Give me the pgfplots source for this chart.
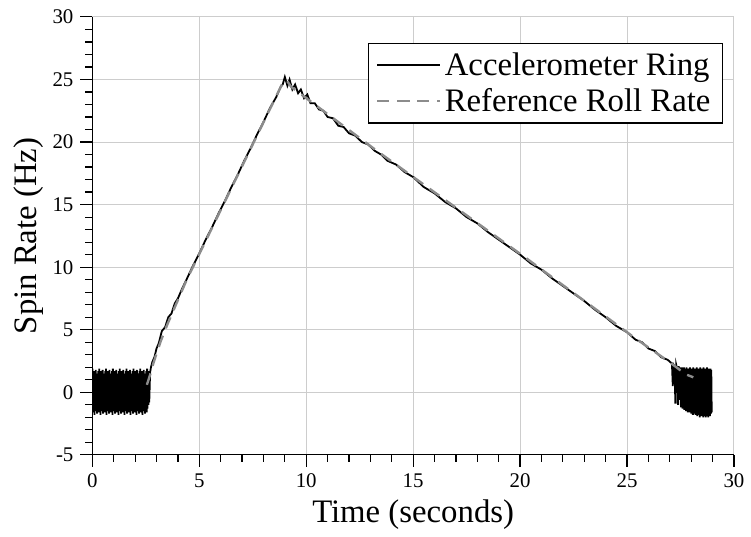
\documentclass[border=0pt]{standalone}
\usepackage{fontspec}
\setmainfont{Liberation Serif}
\usepackage{pgfplots}
\pgfplotsset{compat=1.18}
\definecolor{gridgray}{RGB}{205,205,205}
\definecolor{refgray}{RGB}{140,140,140}
\begin{document}
\begin{tikzpicture}
\begin{axis}[
 scale only axis,
 width=323pt, height=220.5pt,
 xmin=0, xmax=30, ymin=-5, ymax=30,
 xtick={0,5,...,30}, ytick={-5,0,...,30},
 minor tick num=4,
 axis x line=bottom, axis y line=left,
 axis line style={-, line width=0.6pt},
 tick align=outside,
 major tick length=6pt, minor tick length=3.5pt,
 tick style={black, line width=0.6pt},
 grid=major, grid style={gridgray, line width=0.5pt},
 /pgf/number format/assume math mode=true,
 ticklabel style={font=\fontsize{10.5}{12}\selectfont},
 xlabel={Time (seconds)}, ylabel={Spin Rate (Hz)},
 xlabel style={at={(axis description cs:0.5,0)}, anchor=base, yshift=-34pt, font=\fontsize{16.5}{18}\selectfont},
 ylabel style={at={([xshift=-28pt]axis description cs:0,0.5)}, anchor=base, font=\fontsize{16.5}{18}\selectfont},
 legend style={at={(0.983,0.941)}, anchor=north east, draw=black, line width=0.6pt,
   font=\fontsize{16.5}{19}\selectfont, inner xsep=4pt, inner ysep=2.5pt,
   row sep=1pt, /tikz/every even column/.append style={column sep=6pt}},
 legend cell align=left,
 legend image code/.code={\draw[mark repeat=2,mark phase=2] plot coordinates {(0cm,0cm) (0.55cm,0cm) (1.1cm,0cm)};},
]
% Accelerometer Ring
\addplot[black, line width=0.9pt] coordinates {
(0.00,1.9) (0.02,-1.6) (0.04,1.4) (0.06,-1.3) (0.08,1.7) (0.10,-1.8) (0.12,1.2) (0.14,-1.1)
(0.16,1.8) (0.18,-1.5) (0.20,1.5) (0.22,-1.7) (0.24,1.3) (0.26,-1.2) (0.28,1.7) (0.30,-1.6)
(0.32,1.9) (0.34,-1.3) (0.36,1.4) (0.38,-1.8) (0.40,1.7) (0.42,-1.1) (0.44,1.2) (0.46,-1.5)
(0.48,1.8) (0.50,-1.7) (0.52,1.5) (0.54,-1.2) (0.56,1.3) (0.58,-1.6) (0.60,1.7) (0.62,-1.3)
(0.64,1.9) (0.66,-1.8) (0.68,1.4) (0.70,-1.1) (0.72,1.7) (0.74,-1.5) (0.76,1.2) (0.78,-1.7)
(0.80,1.8) (0.82,-1.2) (0.84,1.5) (0.86,-1.6) (0.88,1.3) (0.90,-1.3) (0.92,1.7) (0.94,-1.8)
(0.96,1.9) (0.98,-1.1) (1.00,1.4) (1.02,-1.5) (1.04,1.7) (1.06,-1.7) (1.08,1.2) (1.10,-1.2)
(1.12,1.8) (1.14,-1.6) (1.16,1.5) (1.18,-1.3) (1.20,1.3) (1.22,-1.8) (1.24,1.7) (1.26,-1.1)
(1.28,1.9) (1.30,-1.5) (1.32,1.4) (1.34,-1.7) (1.36,1.7) (1.38,-1.2) (1.40,1.2) (1.42,-1.6)
(1.44,1.8) (1.46,-1.3) (1.48,1.5) (1.50,-1.8) (1.52,1.3) (1.54,-1.1) (1.56,1.7) (1.58,-1.5)
(1.60,1.9) (1.62,-1.7) (1.64,1.4) (1.66,-1.2) (1.68,1.7) (1.70,-1.6) (1.72,1.2) (1.74,-1.3)
(1.76,1.8) (1.78,-1.8) (1.80,1.5) (1.82,-1.1) (1.84,1.3) (1.86,-1.5) (1.88,1.7) (1.90,-1.7)
(1.92,1.9) (1.94,-1.2) (1.96,1.4) (1.98,-1.6) (2.00,1.7) (2.02,-1.3) (2.04,1.2) (2.06,-1.8)
(2.08,1.8) (2.10,-1.1) (2.12,1.5) (2.14,-1.5) (2.16,1.3) (2.18,-1.7) (2.20,1.7) (2.22,-1.2)
(2.24,1.9) (2.26,-1.6) (2.28,1.4) (2.30,-1.3) (2.32,1.7) (2.34,-1.8) (2.36,1.2) (2.38,-1.1)
(2.40,1.8) (2.42,-1.5) (2.44,1.5) (2.46,-1.7) (2.48,1.3) (2.50,-1.2) (2.52,1.7) (2.54,-1.6)
(2.56,1.9) (2.58,-1.3) (2.60,1.4) (2.62,-1.0) (2.64,1.7) (2.66,-0.8) (2.70,1.6) (2.74,2.0)
(2.80,2.4) (2.90,2.8) (3.00,3.5) (3.10,3.9) (3.25,4.9) (3.40,5.2) (3.55,6.0) (3.70,6.3)
(3.85,7.1) (4.00,7.5) (4.20,8.3) (4.40,9.0) (4.70,10.1) (5.00,11.1) (5.30,12.2) (5.60,13.2)
(5.90,14.3) (6.20,15.3) (6.50,16.4) (6.80,17.4) (7.10,18.5) (7.40,19.5) (7.70,20.6) (8.00,21.6)
(8.30,22.7) (8.60,23.6) (8.80,24.4) (8.90,24.6) (9.00,25.2)
(9.12,24.5) (9.22,25.0) (9.35,24.2) (9.48,24.6) (9.62,23.9) (9.75,24.2) (9.90,23.5) (10.05,23.8)
(10.20,23.1) (10.40,23.1) (10.60,22.6) (10.80,22.5) (11.00,22.0) (11.25,21.9) (11.50,21.3) (11.75,21.2)
(12.00,20.7) (12.30,20.5) (12.60,20.0) (12.90,19.8) (13.20,19.3) (13.50,19.0) (13.80,18.5) (14.20,18.2)
(14.60,17.6) (15.00,17.2) (15.50,16.4) (16.00,15.9) (16.50,15.2) (17.00,14.7) (17.50,14.0) (18.00,13.5)
(18.50,12.8) (19.00,12.2) (19.50,11.6) (20.00,11.0) (20.50,10.3) (21.00,9.8) (21.50,9.1) (22.00,8.5)
(22.50,7.9) (23.00,7.3) (23.50,6.6) (24.00,6.0) (24.50,5.3) (25.00,4.8) (25.40,4.2) (25.70,4.0)
(26.00,3.5) (26.30,3.3) (26.60,2.8) (26.90,2.6) (27.10,2.3)
(27.14,0.5) (27.18,2.2) (27.22,2.1) (27.26,-0.9) (27.30,2.2) (27.34,1.9) (27.38,-1.0) (27.42,2.1)
(27.46,-0.6) (27.50,2.0) (27.52,-1.2) (27.54,1.9) (27.56,-1.1) (27.58,2.0) (27.60,-1.3) (27.62,1.8)
(27.64,-1.2) (27.66,2.0) (27.68,-1.4) (27.70,1.9) (27.72,-1.3) (27.74,1.7) (27.76,-1.5) (27.78,2.0)
(27.80,-1.4) (27.82,1.8) (27.84,-1.6) (27.86,1.9) (27.88,-1.5) (27.90,1.7) (27.92,-1.6) (27.94,2.0)
(27.96,-1.4) (27.98,1.8) (28.00,-1.7) (28.02,1.9) (28.04,-1.5) (28.06,1.7) (28.08,-1.8) (28.10,2.0)
(28.12,-1.6) (28.14,1.8) (28.16,-1.7) (28.18,1.9) (28.20,-1.8) (28.22,1.6) (28.24,-1.7) (28.26,2.0)
(28.28,-1.9) (28.30,1.8) (28.32,-1.7) (28.34,1.9) (28.36,-1.8) (28.38,1.7) (28.40,-2.0) (28.42,2.0)
(28.44,-1.8) (28.46,1.8) (28.48,-1.9) (28.50,1.9) (28.52,-1.7) (28.54,1.7) (28.56,-2.0) (28.58,2.0)
(28.60,-1.8) (28.62,1.8) (28.64,-1.9) (28.66,1.9) (28.68,-2.0) (28.70,1.7) (28.72,-1.8) (28.74,2.0)
(28.76,-1.9) (28.78,1.8) (28.80,-2.0) (28.82,1.9) (28.84,-1.8) (28.86,1.7) (28.88,-1.9) (28.90,1.9)
(28.92,-1.7) (28.94,1.8) (28.96,-1.6)
};
\addlegendentry{Accelerometer Ring}
% Reference Roll Rate
\addplot[refgray, line width=1.2pt, dash pattern=on 6pt off 4pt] coordinates {
(2.55,0.6) (2.70,1.4) (2.85,2.3) (3.00,3.1) (3.20,4.1) (3.50,5.4) (4.40,8.95) (8.95,24.9)
(9.10,24.9) (9.30,24.4) (13.30,19.3) (20.30,10.7) (25.40,4.3) (27.00,2.4) (27.50,1.75)
(27.80,1.4) (28.10,1.2)
};
\addlegendentry{Reference Roll Rate}
\end{axis}
\path (-46.5pt,-34.5pt) rectangle (329pt,229pt);
\end{tikzpicture}
\end{document}
